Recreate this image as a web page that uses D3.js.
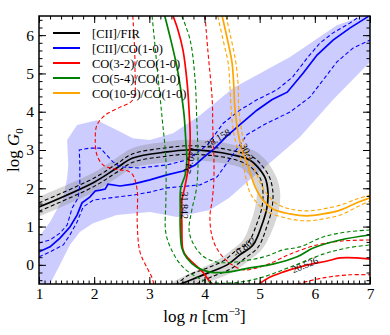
<!DOCTYPE html>
<meta charset="utf-8">
<style>
body { margin: 0; background: #fff; }
svg text { font-family: "Liberation Serif", "Times New Roman", Times, serif; fill: #000; }
path.line { fill: none; }
path.solid { stroke-width: 1.7; }
path.dash { stroke-width: 1.1; stroke-dasharray: 4,2.5; }
.axis line { stroke: #000; }
</style>
<body>
<script src="https://d3js.org/d3.v7.min.js"></script>
<script>
// plot size
var width = 390, height = 335;
var margin = {left: 39, right: 20, top: 16, bottom: 51};

// ---- data: [log n, log G0] ----
var bandCO = [[1.0,-0.5],[1.0,0.73],[1.2,1.12],[1.44,1.75],[1.51,2.27],[1.53,2.61],[1.51,3.26],[1.69,3.65],
  [2.05,3.78],[2.41,3.52],[2.70,3.31],[3.01,3.26],[3.43,3.44],[3.92,3.91],[4.52,4.62],[5.55,5.43],[6.40,6.26],
  [6.87,6.5],[7.0,6.5],[7.0,5.30],[6.33,4.31],[5.73,3.34],[5.31,2.82],[4.82,2.22],[4.45,1.75],[4.10,1.43],
  [3.50,1.25],[3.01,1.38],[2.41,1.30],[1.98,1.09],[1.74,0.86],[1.56,0.52],[1.38,0.0],[1.2,-0.5]];

var grayOuter = [[1.0,1.78],[2.0,2.42],[2.41,2.80],[2.70,3.05],[3.32,3.22],[3.68,3.27],[4.10,3.24],[4.52,3.14],
  [4.90,2.98],[5.12,2.72],[5.30,2.30],[5.37,1.90],[5.35,1.45],[5.24,0.95],[5.05,0.42],[4.78,0.08],[4.50,-0.20],
  [4.20,-0.38],[3.95,-0.5]];
var grayInner = [[1.0,1.26],[2.0,1.90],[2.41,2.27],[2.70,2.53],[3.32,2.68],[3.68,2.73],[4.10,2.70],[4.52,2.60],
  [4.70,2.50],[4.83,2.30],[4.93,2.05],[4.95,1.90],[4.92,1.52],[4.84,1.12],[4.70,0.65],[4.50,0.40],[4.30,0.18],
  [4.00,-0.05],[3.65,-0.28],[3.40,-0.5]];

var ciiFir = [[1.0,1.51],[2.0,2.16],[2.41,2.53],[2.70,2.79],[3.32,2.95],[3.68,3.0],[4.10,2.97],[4.52,2.87],
  [4.82,2.74],[4.95,2.58],[5.10,2.27],[5.15,1.90],[5.13,1.48],[5.04,1.04],[4.88,0.52],[4.64,0.26],[4.41,0.0],
  [4.10,-0.19],[3.74,-0.40],[3.56,-0.5]];
var ciiFirHi = [[1.0,1.62],[2.0,2.27],[2.41,2.64],[2.70,2.90],[3.32,3.06],[3.68,3.11],[4.10,3.08],[4.52,2.98],
  [4.86,2.83],[5.02,2.63],[5.18,2.28],[5.24,1.90],[5.22,1.46],[5.13,1.00],[4.97,0.46],[4.72,0.16],[4.47,-0.11],
  [4.15,-0.30],[3.85,-0.5]];
var ciiFirLo = [[1.0,1.40],[2.0,2.05],[2.41,2.42],[2.70,2.68],[3.32,2.84],[3.68,2.89],[4.10,2.86],[4.52,2.76],
  [4.76,2.63],[4.88,2.50],[5.02,2.23],[5.06,1.90],[5.04,1.50],[4.95,1.08],[4.79,0.58],[4.56,0.36],[4.35,0.11],
  [4.05,-0.08],[3.70,-0.28],[3.50,-0.5]];

var ciiCO = [[1.0,0.34],[1.2,0.47],[1.38,0.70],[1.56,0.99],[1.69,1.30],[1.78,1.62],[1.92,1.77],[2.02,1.93],
  [2.11,1.95],[2.20,1.98],[2.25,2.11],[2.47,2.06],[2.70,2.11],[3.01,2.22],[3.32,2.35],[3.61,2.45],[3.83,2.61],
  [4.01,2.84],[4.19,3.05],[4.39,3.34],[4.59,3.60],[4.95,4.04],[5.22,4.31],[5.50,4.51],[5.79,5.01],[6.04,5.48],
  [6.33,5.87],[6.64,6.19],[6.95,6.47],[7.0,6.52]];
var ciiCOHi = [[1.0,0.57],[1.2,0.65],[1.38,0.83],[1.51,1.04],[1.60,1.48],[1.71,1.75],[1.74,2.09],[1.74,2.61],
  [1.73,3.0],[1.92,3.05],[2.11,3.05],[2.34,2.69],[2.47,2.56],[2.83,2.53],[3.32,2.61],[3.68,2.74],[4.05,3.13],
  [4.34,3.70],[4.64,4.04],[4.95,4.31],[5.31,4.57],[5.60,4.91],[5.86,5.40],[6.09,5.79],[6.33,6.06],[6.64,6.32],
  [6.82,6.5]];
var ciiCOLo = [[1.0,0.21],[1.2,0.34],[1.44,0.52],[1.56,0.78],[1.69,1.12],[1.80,1.51],[1.98,1.69],[2.29,1.75],
  [2.70,1.82],[3.01,1.90],[3.32,2.01],[3.92,2.09],[4.23,2.30],[4.50,2.85],[4.77,3.40],[5.13,3.70],[5.55,3.99],
  [5.91,4.38],[6.15,4.83],[6.40,5.30],[6.69,5.66],[7.0,5.87]];

var co32 = [[3.43,6.5],[3.52,6.13],[3.61,5.61],[3.68,4.83],[3.72,4.04],[3.74,3.26],[3.70,2.48],[3.63,1.95],
  [3.59,1.69],[3.59,1.04],[3.61,0.39],[3.68,0.21],[3.79,0.05],[3.97,-0.19],[4.10,-0.45],[4.14,-0.5]];
var co32b = [[4.99,-0.5],[5.19,-0.32],[5.42,-0.19],[5.82,-0.02],[6.22,0.10],[6.46,0.18],[6.76,0.18],[7.0,0.15]];
var co32Lo = [[2.70,6.5],[2.74,5.17],[2.70,4.31],[2.47,4.12],[2.20,3.91],[2.05,3.65],[2.02,3.26],[2.05,2.87],
  [2.16,2.61],[2.29,2.53],[2.47,2.48],[2.61,2.45],[2.70,2.35],[2.78,1.95],[2.78,1.12],[2.83,0.34],[2.96,-0.08],
  [3.05,-0.34],[3.08,-0.5]];
var co32Lob = [[5.68,-0.5],[6.15,-0.34],[6.64,-0.26],[7.0,-0.26]];
var co32Hi = [[4.01,6.5],[4.06,5.61],[4.14,4.31],[4.15,3.60],[4.17,2.82],[4.17,2.22],[4.14,1.69],[4.10,1.30],
  [4.12,0.86],[4.19,0.52],[4.32,0.23],[4.50,0.0],[4.70,-0.13],[4.95,-0.08],[5.24,0.07],[5.55,0.28],[6.04,0.52],
  [6.46,0.62],[7.0,0.65]];

var co54 = [[3.28,6.5],[3.39,5.87],[3.50,5.17],[3.57,4.57],[3.63,3.91],[3.66,3.26],[3.68,2.74],[3.65,2.35],
  [3.57,2.01],[3.56,1.43],[3.56,0.99],[3.59,0.44],[3.68,0.18],[3.86,-0.06],[4.10,-0.19],[4.41,-0.19],[4.82,-0.08],
  [5.24,0.02],[5.68,0.21],[5.97,0.44],[6.46,0.65],[7.0,0.78]];
var co54Lo = [[3.05,6.5],[3.14,5.17],[3.23,3.86],[3.30,2.74],[3.30,1.69],[3.30,0.83],[3.43,0.31],[3.61,-0.06],
  [3.86,-0.32],[4.10,-0.45],[4.52,-0.47],[5.01,-0.34],[5.55,-0.06],[6.15,0.28],[6.58,0.44],[7.0,0.52]];
var co54Hi = [[3.59,6.5],[3.74,5.87],[3.83,4.83],[3.86,3.78],[3.88,3.0],[3.88,2.48],[3.85,1.95],[3.77,1.43],
  [3.72,0.91],[3.79,0.57],[3.97,0.23],[4.23,0.07],[4.52,0.07],[4.82,0.13],[5.13,0.23],[5.42,0.39],[5.73,0.47],
  [6.15,0.73],[6.58,0.86],[7.0,0.91]];

var co109 = [[4.32,6.5],[4.43,5.79],[4.50,5.27],[4.53,4.70],[4.55,4.12],[4.61,3.44],[4.68,3.0],[4.77,2.66],
  [4.84,2.35],[4.92,2.03],[5.06,1.69],[5.24,1.46],[5.55,1.33],[5.86,1.28],[6.15,1.33],[6.46,1.43],[6.76,1.62],
  [7.0,1.75]];
var co109Lo = [[4.24,6.5],[4.35,5.79],[4.43,5.27],[4.46,4.70],[4.48,4.12],[4.53,3.44],[4.61,3.0],[4.70,2.61],
  [4.75,2.27],[4.82,1.90],[4.95,1.62],[5.15,1.38],[5.55,1.20],[5.86,1.15],[6.15,1.20],[6.46,1.30],[6.76,1.51],
  [7.0,1.67]];
var co109Hi = [[4.39,6.5],[4.50,5.79],[4.57,5.27],[4.61,4.70],[4.62,4.12],[4.68,3.44],[4.75,3.0],[4.84,2.69],
  [4.93,2.43],[5.01,2.14],[5.15,1.82],[5.31,1.59],[5.55,1.46],[5.86,1.41],[6.15,1.46],[6.46,1.56],[6.76,1.72],
  [7.0,1.82]];

// contour labels: text, log n, log G0, angle
var contourLabels = [["-0.802",4.72,0.47,-38],["20.526",5.82,0.0,-22],["31.842",3.63,1.56,90],
  ["24.071",3.74,2.74,-75],["28.158",4.24,3.31,-30],["30.3",4.77,2.95,65]];

var legendNames = ["[CII]/FIR", "[CII]/CO(1-0)", "CO(3-2)/CO(1-0)", "CO(5-4)/CO(1-0)", "CO(10-9)/CO(1-0)"];
var legendColors = ["black", "blue", "red", "green", "orange"];

var nTicks = [1, 2, 3, 4, 5, 6, 7];
var gTicks = [0, 1, 2, 3, 4, 5, 6];

// ---- scales ----
var x = d3.scaleLinear().domain([1, 7]).range([margin.left, width - margin.right]);
var y = d3.scaleLinear().domain([-0.5, 6.5]).range([height - margin.bottom, margin.top]);

var svg = d3.select("body").append("svg")
    .attr("width", width)
    .attr("height", height);

svg.append("clipPath").attr("id", "clip")
  .append("rect")
    .attr("x", x(1)).attr("y", y(6.5))
    .attr("width", x(7) - x(1)).attr("height", y(-0.5) - y(6.5));

var plot = svg.append("g").attr("clip-path", "url(#clip)");

var smooth = d3.line()
    .x(function(d) { return x(d[0]); })
    .y(function(d) { return y(d[1]); })
    .curve(d3.curveCatmullRom.alpha(0.5));
var straight = d3.line()
    .x(function(d) { return x(d[0]); })
    .y(function(d) { return y(d[1]); });

// shaded ranges
plot.append("path")
    .attr("d", straight(bandCO) + "Z")
    .attr("fill", "blue").attr("fill-opacity", 0.2);

plot.append("path")
    .attr("d", smooth(grayOuter.concat(grayInner.slice().reverse())) + "Z")
    .attr("fill", "gray").attr("fill-opacity", 0.32);

function drawLine(data, color, cls, gen) {
    plot.append("path")
        .attr("class", "line " + cls)
        .attr("stroke", color)
        .attr("d", (gen || smooth)(data));
}

drawLine(ciiFirHi, "black", "dash");
drawLine(ciiFirLo, "black", "dash");
drawLine(ciiFir, "black", "solid");

drawLine(ciiCOHi, "blue", "dash", straight);
drawLine(ciiCOLo, "blue", "dash", straight);
drawLine(ciiCO, "blue", "solid", straight);

drawLine(co32Lo, "red", "dash");
drawLine(co32Lob, "red", "dash");
drawLine(co32Hi, "red", "dash");
drawLine(co32, "red", "solid");
drawLine(co32b, "red", "solid");

drawLine(co54Lo, "green", "dash");
drawLine(co54Hi, "green", "dash");
drawLine(co54, "green", "solid");

drawLine(co109Lo, "orange", "dash");
drawLine(co109Hi, "orange", "dash");
drawLine(co109, "orange", "solid");

// contour labels
plot.selectAll(".clabel")
    .data(contourLabels)
  .enter().append("text")
    .attr("class", "clabel")
    .attr("font-size", 10)
    .attr("text-anchor", "middle")
    .attr("dy", "0.35em")
    .attr("transform", function(d) {
        return "translate(" + x(d[1]) + "," + y(d[2]) + ") rotate(" + d[3] + ")";
    })
    .text(function(d) { return d[0]; });

// legend
var legend = svg.append("g");
legendNames.forEach(function(name, i) {
    var ly = 33 + i * 15;
    legend.append("line")
        .attr("x1", 53).attr("x2", 80)
        .attr("y1", ly).attr("y2", ly)
        .attr("stroke", legendColors[i]).attr("stroke-width", 2);
    legend.append("text")
        .attr("x", 92).attr("y", ly + 4.5)
        .attr("font-size", 12.5)
        .text(name);
});

// axes, ticks inward on all four sides
var xMinor = d3.range(1, 7.001, 0.1);
var xMinorTop = d3.range(1, 7.001, 0.2);
var yMinor = d3.range(-0.4, 6.5, 0.2);

var xBottom = d3.axisBottom(x).tickValues(nTicks).tickSize(-7).tickPadding(4).tickFormat(d3.format("d"));
var xBottomMinor = d3.axisBottom(x).tickValues(xMinor).tickSize(-3.5).tickFormat("");
var xTop = d3.axisTop(x).tickValues(nTicks).tickSize(-7).tickFormat("");
var xTopMinor = d3.axisTop(x).tickValues(xMinorTop).tickSize(-3.5).tickFormat("");
var yLeft = d3.axisLeft(y).tickValues(gTicks).tickSize(-7).tickPadding(5).tickFormat(d3.format("d"));
var yLeftMinor = d3.axisLeft(y).tickValues(yMinor).tickSize(-3.5).tickFormat("");
var yRight = d3.axisRight(y).tickValues(gTicks).tickSize(-7).tickFormat("");
var yRightMinor = d3.axisRight(y).tickValues(yMinor).tickSize(-3.5).tickFormat("");

function addAxis(ax, tx, ty) {
    var g = svg.append("g")
        .attr("class", "axis")
        .attr("transform", "translate(" + tx + "," + ty + ")")
        .call(ax);
    g.select(".domain").remove();
    g.selectAll("line").attr("stroke-width", 1);
    g.selectAll("text")
        .attr("font-family", null)
        .attr("font-size", 15.5);
    return g;
}
addAxis(xBottom, 0, y(-0.5));
addAxis(xBottomMinor, 0, y(-0.5));
addAxis(xTop, 0, y(6.5));
addAxis(xTopMinor, 0, y(6.5));
addAxis(yLeft, x(1), 0);
addAxis(yLeftMinor, x(1), 0);
addAxis(yRight, x(7), 0);
addAxis(yRightMinor, x(7), 0);

// frame
svg.append("rect")
    .attr("x", x(1)).attr("y", y(6.5))
    .attr("width", x(7) - x(1)).attr("height", y(-0.5) - y(6.5))
    .attr("fill", "none").attr("stroke", "black").attr("stroke-width", 1.5);

// axis titles
var xt = svg.append("text")
    .attr("x", (x(1) + x(7)) / 2).attr("y", 322)
    .attr("text-anchor", "middle")
    .attr("font-size", 17);
xt.append("tspan").text("log ");
xt.append("tspan").attr("font-style", "italic").text("n");
xt.append("tspan").text(" [cm");
xt.append("tspan").attr("font-size", 11).attr("dy", -7).text("\u22123");
xt.append("tspan").attr("dy", 7).text("]");

var yt = svg.append("text")
    .attr("transform", "translate(19," + y(3) + ") rotate(-90)")
    .attr("text-anchor", "middle")
    .attr("font-size", 17);
yt.append("tspan").text("log ");
yt.append("tspan").attr("font-style", "italic").text("G");
yt.append("tspan").attr("font-size", 11).attr("dy", 4).text("0");
</script>
</body>
